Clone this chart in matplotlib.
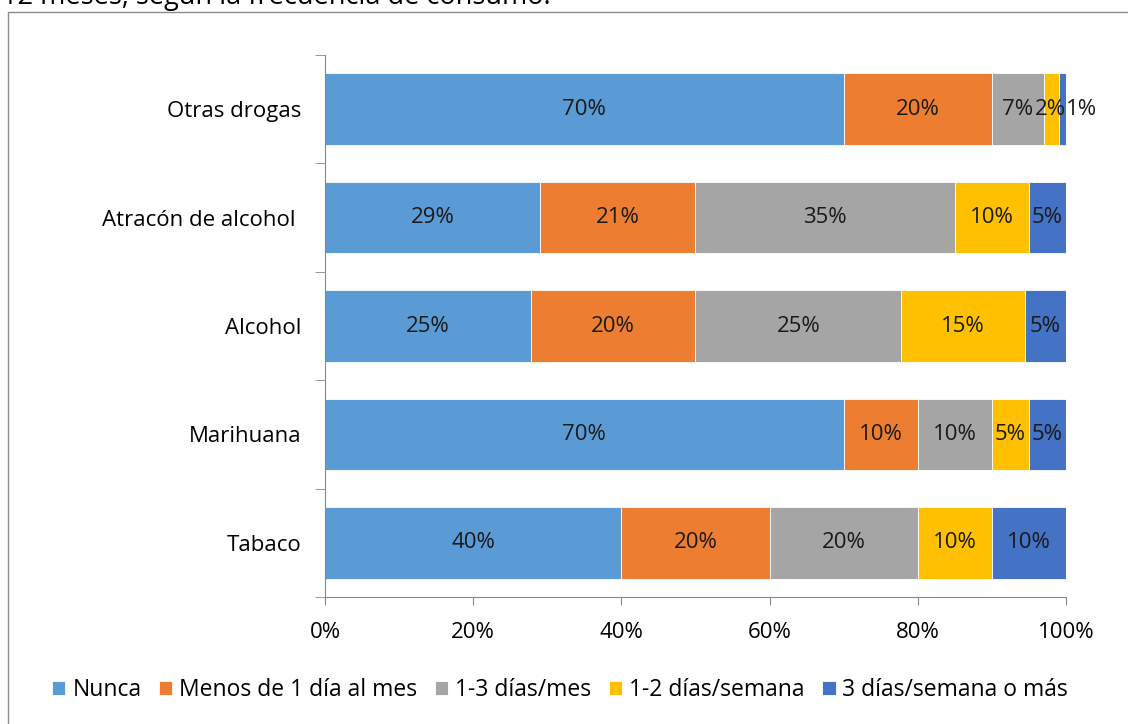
import matplotlib
matplotlib.use('Agg')
import matplotlib.pyplot as plt
from matplotlib.patches import Rectangle
import numpy as np

plt.rcParams['font.family'] = ['Open Sans', 'DejaVu Sans']

categories = ['Tabaco', 'Marihuana', 'Alcohol', 'Atracón de alcohol ', 'Otras drogas']
series = ['Nunca', 'Menos de 1 día al mes', '1-3 días/mes', '1-2 días/semana', '3 días/semana o más']
nunca = [40, 70, 25, 29, 70]
menos_1 = [20, 10, 20, 21, 20]
dias_1_3_mes = [20, 10, 25, 35, 7]
dias_1_2_sem = [10, 5, 15, 10, 2]
dias_3_mas = [10, 5, 5, 5, 1]
colors = ['#5B9BD5', '#ED7D31', '#A5A5A5', '#FFC000', '#4472C4']
x_ticks = [0, 20, 40, 60, 80, 100]

values = np.array([nunca, menos_1, dias_1_3_mes, dias_1_2_sem, dias_3_mas], dtype=float)
shares = values / values.sum(axis=0) * 100  # 100% stacked

fig = plt.figure(figsize=(11.28, 7.24), dpi=100)
ax = fig.add_axes([0.2881, 0.1754, 0.9450 - 0.2881, 0.924 - 0.1754])

# outer frame
fig.patches.append(Rectangle((8 / 1128, -0.1), 1.2, 1.1 - 12 / 724, transform=fig.transFigure,
                             fill=False, edgecolor='#8C8C8C', linewidth=1.0))
fig.text(0.002, 1 - 4 / 724, '12 meses, según la frecuencia de consumo.', fontsize=19.5,
         ha='left', va='baseline', color='black')

fs = 16
n = len(series)
y = np.arange(len(categories))
left = np.zeros(len(categories))
for i, name in enumerate(series):
    ax.barh(y, shares[i], left=left, height=0.66, color=colors[i], label=name,
            edgecolor='white', linewidth=0.6)
    for j in range(len(categories)):
        x, ha = left[j] + shares[i][j] / 2, 'center'
        # tiny trailing segments: push labels apart around the bar end like Excel does
        if shares[i][j] < 3 and i == n - 1:
            x, ha = 100, 'left'
        elif shares[i][j] < 3 and i == n - 2:
            x, ha = 100, 'right'
        ax.text(x, y[j], f'{int(values[i][j])}%', ha=ha, va='center',
                fontsize=fs, color='#1a1a1a', clip_on=False)
    left += shares[i]

ax.set_xlim(0, 100)
ax.set_ylim(-0.5, len(categories) - 0.5)
ax.set_xticks(x_ticks)
ax.set_xticklabels([f'{t}%' for t in x_ticks], fontsize=fs)
ax.set_yticks(y)
ax.set_yticklabels(categories, fontsize=fs)
ax.set_yticks(np.arange(len(categories) + 1) - 0.5, minor=True)
ax.tick_params(axis='y', which='major', length=0, pad=17)
ax.tick_params(axis='y', which='minor', length=7, color='#868686', direction='out')
ax.tick_params(axis='x', length=6, color='#868686', pad=12)
for s in ['top', 'right']:
    ax.spines[s].set_visible(False)
for s in ['left', 'bottom']:
    ax.spines[s].set_color('#868686')

ax.legend(loc='center', bbox_to_anchor=(560 / 1128, 1 - 690 / 724),
          bbox_transform=fig.transFigure, ncol=5, frameon=False, fontsize=16.5,
          handlelength=0.6, handleheight=0.6, handletextpad=0.3, columnspacing=0.75)

fig.savefig('out.png', dpi=100)
